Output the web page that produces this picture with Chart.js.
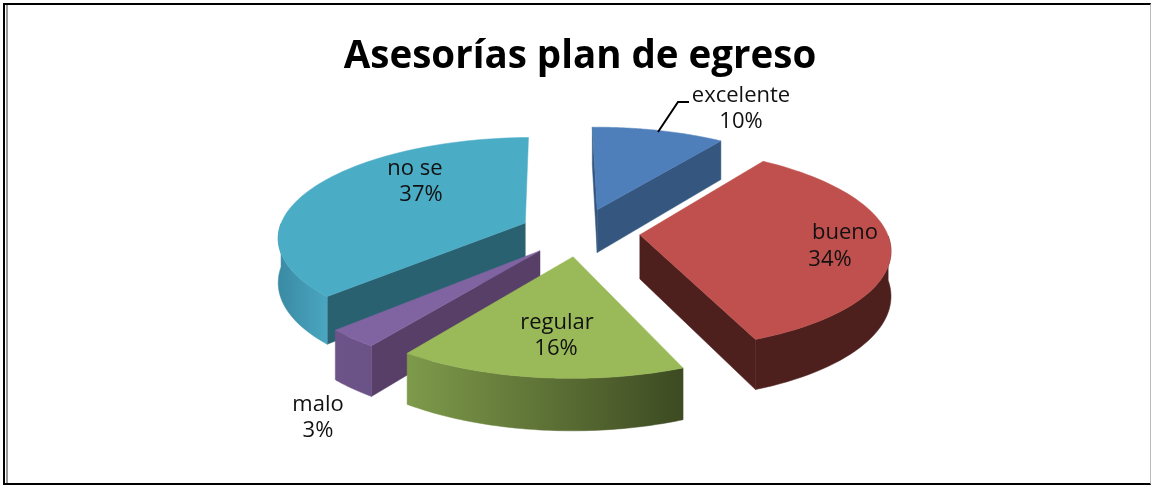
<!DOCTYPE html>
<html lang="es">
<head>
<meta charset="utf-8">
<title>Asesorías plan de egreso</title>
<script src="https://cdn.jsdelivr.net/npm/chart.js@4/dist/chart.umd.min.js"></script>
<style>
  html, body { margin: 0; padding: 0; background: #fff; overflow: hidden; }
  #wrap { position: relative; width: 1151px; height: 485px; }
  #frame { position: absolute; left: 3px; top: 3px; width: 1148px; height: 482px; box-sizing: border-box;
           border-top: 2px solid #000; border-left: 2px solid #000; border-bottom: 2px solid #000; border-right: 1px solid #bbb; }
  #frame-inner { position: absolute; left: 1px; top: 0; bottom: 0; width: 2px; background: #999; }
  #pie { position: absolute; left: 0; top: 0; filter: blur(0.6px); }
</style>
</head>
<body>
<div id="wrap">
  <div id="frame"><div id="frame-inner"></div></div>
  <canvas id="pie" width="1151" height="485"></canvas>
</div>
<script>
const titleText = 'Asesorías plan de egreso';
const categories = ['excelente', 'bueno', 'regular', 'malo', 'no se'];
const percentValues = [10, 34, 16, 3, 37];

// colores de cada cara
const topColors = ['#4f7fbb', '#bf504d', '#9aba59', '#8064a2', '#4bacc6'];
const wallColors = ['#34567f', '#4d1f1d', '#5f7535', '#573f68', '#2a6170'];
const rimLeftColors = ['#34567f', '#4d1f1d', '#7e9a4a', '#6c5489', '#3a8aa3'];
const rimRightColors = ['#34567f', '#4d1f1d', '#3d4a22', '#6a5287', '#4aa6c0'];

// centro de cada etiqueta [nombre x, nombre y, % x, % y]
const labelSpots = [
  [741, 96, 741, 122],
  [845, 233, 830, 260],
  [557, 323, 556, 349],
  [318, 405, 318, 431],
  [415, 169, 421, 195],
];

const pieRadius = 247;
const explode = 60;
const depth = 44;
const tilt = 0.40;   // aplastamiento vertical
const persp = 0.13;  // perspectiva: lo de atras se hace mas chico

// pasa un punto del plano del pastel (radio 1) a la pantalla
function project(cx, cy, r, px, py, drop) {
  const w = 1 - persp * py;
  return {
    x: cx + r * px / w,
    y: cy + r * tilt * py / w + (drop ? depth / w : 0),
  };
}

function fillPoly(ctx, pts, style) {
  ctx.beginPath();
  pts.forEach((p, i) => (i ? ctx.lineTo(p.x, p.y) : ctx.moveTo(p.x, p.y)));
  ctx.closePath();
  ctx.fillStyle = style;
  ctx.fill();
  ctx.strokeStyle = style;
  ctx.lineWidth = 0.5;
  ctx.stroke();
}

function drawSlice(ctx, arc, i) {
  const r = arc.outerRadius;
  const mid = (arc.startAngle + arc.endAngle) / 2;
  const off = (arc.options.offset || 0) / r;
  const ax = Math.cos(mid) * off;
  const ay = Math.sin(mid) * off;
  const steps = 64;

  const angles = [];
  for (let s = 0; s <= steps; s++) {
    angles.push(arc.startAngle + (arc.endAngle - arc.startAngle) * s / steps);
  }
  const at = (a, drop) => project(arc.x, arc.y, r, ax + Math.cos(a), ay + Math.sin(a), drop);
  const apexTop = project(arc.x, arc.y, r, ax, ay, false);
  const apexLow = project(arc.x, arc.y, r, ax, ay, true);
  const top = angles.map((a) => at(a, false));

  // paredes rectas, solo las que miran hacia adelante
  if (Math.sin(arc.startAngle - Math.PI / 2) > 0.01) {
    fillPoly(ctx, [apexTop, top[0], at(angles[0], true), apexLow], wallColors[i]);
  }
  if (Math.sin(arc.endAngle + Math.PI / 2) > 0.01) {
    fillPoly(ctx, [apexTop, top[steps], at(angles[steps], true), apexLow], wallColors[i]);
  }

  // borde curvo, solo la parte de adelante
  const front = angles.filter((a) => Math.sin(a) > 0);
  if (front.length > 1) {
    const rimTop = front.map((a) => at(a, false));
    const rimLow = front.map((a) => at(a, true));
    const xs = rimTop.map((p) => p.x);
    const grad = ctx.createLinearGradient(Math.min(...xs), 0, Math.max(...xs), 0);
    grad.addColorStop(0, rimLeftColors[i]);
    grad.addColorStop(1, rimRightColors[i]);
    fillPoly(ctx, rimTop.concat(rimLow.reverse()), grad);
  }

  // cara de arriba
  fillPoly(ctx, [apexTop].concat(top), topColors[i]);
}

const pie3d = {
  id: 'pie3d',
  beforeDatasetDraw(chart, args) {
    const ctx = chart.ctx;
    const arcs = args.meta.data;
    // de atras hacia adelante
    const order = arcs.map((arc, i) => i).sort((a, b) => {
      const m = (k) => Math.sin((arcs[k].startAngle + arcs[k].endAngle) / 2);
      return m(a) - m(b);
    });
    ctx.save();
    order.forEach((i) => drawSlice(ctx, arcs[i], i));
    ctx.restore();
    return false;
  },
  afterDraw(chart) {
    const ctx = chart.ctx;
    ctx.save();
    ctx.strokeStyle = '#000';
    ctx.lineWidth = 2;
    ctx.beginPath();
    ctx.moveTo(658, 132);
    ctx.lineTo(678, 102);
    ctx.lineTo(689, 102);
    ctx.stroke();

    ctx.fillStyle = '#111';
    ctx.font = '22px "Open Sans"';
    ctx.textAlign = 'center';
    ctx.textBaseline = 'middle';
    categories.forEach((name, i) => {
      const spot = labelSpots[i];
      ctx.fillText(name, spot[0], spot[1]);
      ctx.fillText(percentValues[i] + '%', spot[2], spot[3]);
    });
    ctx.restore();
  },
};

new Chart(document.getElementById('pie'), {
  type: 'pie',
  data: {
    labels: categories,
    datasets: [{
      data: percentValues,
      backgroundColor: topColors,
      offset: explode,
      borderWidth: 0,
    }],
  },
  options: {
    responsive: false,
    animation: false,
    radius: pieRadius,
    rotation: -0.8,
    layout: { padding: { left: 9, top: 20, bottom: 101 } },
    plugins: {
      legend: { display: false },
      tooltip: { enabled: false },
      title: {
        display: true,
        text: titleText,
        color: '#000',
        font: { family: '"Open Sans"', size: 38.5, weight: 'bold' },
        padding: { top: 14, bottom: 0 },
      },
    },
  },
  plugins: [pie3d],
});
</script>
</body>
</html>
